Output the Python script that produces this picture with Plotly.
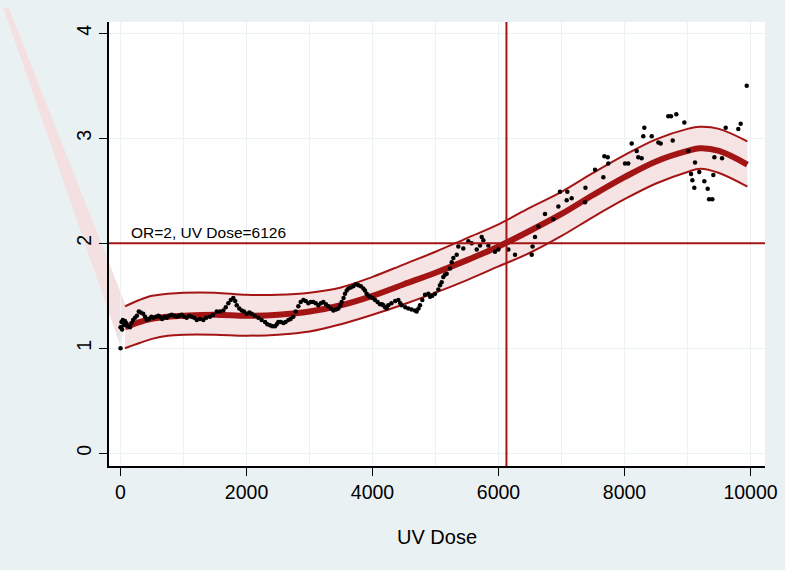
import plotly.graph_objects as go

# ---------------- data ----------------
fit_x = [70, 300, 500, 750, 1000, 1500, 2000, 2500, 3000, 3500, 4000, 4500, 5000,
         5500, 6000, 6500, 7000, 7500, 8000, 8500, 9000, 9200, 9500, 9950]
fit_y = [1.20, 1.25, 1.28, 1.30, 1.31, 1.32, 1.31, 1.32, 1.35, 1.41, 1.50, 1.61, 1.72,
         1.84, 1.97, 2.12, 2.28, 2.46, 2.63, 2.78, 2.88, 2.905, 2.88, 2.75]
ci_upper = [1.40, 1.46, 1.50, 1.52, 1.53, 1.53, 1.51, 1.51, 1.53, 1.58, 1.68, 1.80, 1.92,
            2.05, 2.18, 2.34, 2.49, 2.67, 2.84, 2.99, 3.09, 3.11, 3.09, 2.97]
ci_lower = [1.00, 1.05, 1.09, 1.12, 1.13, 1.13, 1.12, 1.13, 1.16, 1.23, 1.32, 1.42, 1.53,
            1.65, 1.78, 1.91, 2.07, 2.25, 2.42, 2.57, 2.68, 2.71, 2.67, 2.54]

obs_x = [0, 0, 15, 25, 35, 50, 70, 90, 120, 150, 175, 200, 230, 260, 290, 320, 360, 390,
         415, 450, 490, 520, 560, 600, 625, 660, 700, 733, 770, 812, 850, 892, 930, 971,
         1010, 1050, 1090, 1130, 1170, 1210, 1260, 1314, 1360, 1420, 1470, 1527, 1580,
         1632, 1670, 1711, 1750, 1790, 1820, 1845, 1885, 1924, 1960, 2003, 2045, 2083,
         2130, 2188, 2240, 2294, 2330, 2373, 2410, 2452, 2480, 2505, 2545, 2585, 2620,
         2664, 2700, 2743, 2780, 2822, 2860, 2902, 2940, 2981, 3020, 3060, 3100, 3140,
         3180, 3219, 3260, 3298, 3340, 3378, 3420, 3457, 3490, 3510, 3540, 3563, 3590,
         3616, 3655, 3695, 3735, 3775, 3815, 3854, 3880, 3907, 3935, 3960, 4000, 4040,
         4080, 4119, 4150, 4172, 4200, 4225, 4250, 4300, 4360, 4410, 4440, 4463, 4520,
         4569, 4620, 4675, 4701, 4730, 4754, 4790, 4833, 4886, 4913, 4950, 4992, 5045,
         5071, 5098, 5124, 5150, 5177, 5230, 5257, 5283, 5336, 5362, 5441, 5521, 5574,
         5654, 5706, 5733, 5759, 5838, 5944, 5997, 6156, 6262, 6527, 6540, 6579, 6632,
         6738, 6870, 6950, 6976, 7082, 7092, 7161, 7373, 7380, 7532, 7664, 7680, 7733,
         7743, 8008, 8060, 8114, 8193, 8219, 8272, 8298, 8314, 8432, 8537, 8574, 8695,
         8738, 8822, 8765, 8950, 9013, 9119, 9056, 9077, 9108, 9187, 9267, 9320, 9342,
         9394, 9410, 9426, 9548, 9606, 9806, 9844, 9940]
obs_y = [1.00, 1.20, 1.25, 1.18, 1.27, 1.22, 1.26, 1.24, 1.21, 1.20, 1.24, 1.27, 1.29,
         1.31, 1.35, 1.34, 1.33, 1.30, 1.27, 1.28, 1.30, 1.29, 1.30, 1.31, 1.30, 1.28,
         1.30, 1.29, 1.31, 1.32, 1.31, 1.30, 1.31, 1.32, 1.30, 1.29, 1.31, 1.30, 1.29,
         1.27, 1.28, 1.27, 1.29, 1.30, 1.32, 1.35, 1.35, 1.36, 1.39, 1.43, 1.46, 1.48,
         1.45, 1.41, 1.38, 1.36, 1.35, 1.33, 1.34, 1.33, 1.31, 1.29, 1.27, 1.25, 1.23,
         1.22, 1.21, 1.21, 1.23, 1.25, 1.25, 1.24, 1.25, 1.27, 1.28, 1.30, 1.35, 1.40,
         1.44, 1.46, 1.45, 1.43, 1.44, 1.44, 1.43, 1.41, 1.43, 1.44, 1.42, 1.40, 1.38,
         1.36, 1.37, 1.38, 1.41, 1.44, 1.48, 1.52, 1.55, 1.57, 1.58, 1.59, 1.61, 1.60,
         1.59, 1.57, 1.55, 1.52, 1.50, 1.49, 1.48, 1.46, 1.44, 1.42, 1.42, 1.41, 1.39,
         1.38, 1.41, 1.43, 1.45, 1.46, 1.43, 1.41, 1.39, 1.38, 1.37, 1.36, 1.35, 1.38,
         1.41, 1.46, 1.51, 1.52, 1.49, 1.50, 1.52, 1.56, 1.60, 1.63, 1.68, 1.70, 1.71,
         1.76, 1.82, 1.86, 1.89, 1.97, 1.95, 2.02, 2.00, 1.94, 1.98, 2.06, 2.03, 1.98,
         1.92, 1.94, 1.94, 1.89, 1.89, 1.97, 2.06, 2.16, 2.28, 2.23, 2.35, 2.49, 2.41,
         2.49, 2.43, 2.39, 2.53, 2.70, 2.63, 2.83, 2.82, 2.76, 2.76, 2.76, 2.95, 2.88,
         2.82, 2.81, 3.02, 3.10, 3.02, 2.96, 2.95, 3.21, 3.21, 3.23, 2.98, 3.15, 2.88,
         2.77, 2.66, 2.60, 2.53, 2.68, 2.59, 2.52, 2.42, 2.42, 2.65, 2.82, 2.81, 3.10,
         3.09, 3.14, 3.50]

x_ticks = [0, 2000, 4000, 6000, 8000, 10000]
x_tick_labels = ["0", "2000", "4000", "6000", "8000", "10000"]
y_ticks = [0, 1, 2, 3, 4]
y_tick_labels = ["0", "1", "2", "3", "4"]
ref_or = 2
ref_dose = 6126
annot_text = "OR=2, UV Dose=6126"
x_title = "UV Dose"

# ---------------- style ----------------
RED = "#a31515"
BAND = "#f6e3e3"
BG = "#eaf1f3"
GRID = "#ebf2f4"
FONT = "Liberation Sans, Arial, Helvetica, sans-serif"

fig = go.Figure()

# CI band
fig.add_trace(go.Scatter(x=fit_x, y=ci_upper, mode="lines",
                         line=dict(color=RED, width=2, shape="spline"),
                         hoverinfo="skip", showlegend=False))
fig.add_trace(go.Scatter(x=fit_x, y=ci_lower, mode="lines",
                         line=dict(color=RED, width=2, shape="spline"),
                         fill="tonexty", fillcolor=BAND,
                         hoverinfo="skip", showlegend=False))
# fitted curve
fig.add_trace(go.Scatter(x=fit_x, y=fit_y, mode="lines",
                         line=dict(color=RED, width=6, shape="spline"),
                         showlegend=False))
# observed points
fig.add_trace(go.Scatter(x=obs_x, y=obs_y, mode="markers",
                         marker=dict(color="black", size=4.5),
                         showlegend=False))

# reference lines
fig.add_shape(type="line", xref="paper", yref="y", x0=0, x1=1, y0=ref_or, y1=ref_or,
              line=dict(color=RED, width=2), layer="above")
fig.add_shape(type="line", xref="x", yref="paper", x0=ref_dose, x1=ref_dose, y0=0, y1=1,
              line=dict(color=RED, width=2), layer="above")

# stray extrapolated band wedge (drawn outside plot area)
fig.add_shape(type="path", xref="paper", yref="paper",
              path="M -0.161 1.032 L -0.153 1.032 L 0.026 0.360 L 0.018 0.268 Z",
              fillcolor="#f4e0e0", line=dict(width=0), layer="below")

fig.add_annotation(x=140, y=ref_or, xref="x", yref="y", text=annot_text,
                   showarrow=False, xanchor="left", yanchor="bottom", yshift=0,
                   font=dict(family=FONT, size=15.5, color="black"))

fig.update_layout(
    width=785, height=570,
    margin=dict(l=109, r=20, t=22, b=104, autoexpand=False),
    paper_bgcolor=BG, plot_bgcolor="white",
    font=dict(family=FONT, color="black"),
    xaxis=dict(range=[-183, 10230], tickvals=x_ticks, ticktext=x_tick_labels,
               ticks="outside", ticklen=8,
               tickwidth=1.3, tickcolor="black",
               showline=True, linecolor="black", linewidth=1.5,
               showgrid=True, gridcolor=GRID, gridwidth=1,
               minor=dict(dtick=1000, tick0=0, showgrid=True, gridcolor=GRID, gridwidth=1),
               zeroline=False, tickfont=dict(size=19.5),
               title=dict(text=x_title, font=dict(size=20), standoff=28)),
    yaxis=dict(range=[-0.121, 4.108], tickvals=y_ticks, ticktext=y_tick_labels,
               ticks="outside", ticklen=8,
               tickwidth=1.3, tickcolor="black", tickangle=-90,
               showline=True, linecolor="black", linewidth=1.5,
               showgrid=True, gridcolor=GRID, gridwidth=1,
               zeroline=False, tickfont=dict(size=19.5)),
)

fig.write_html("out.html", config={"displayModeBar": False},
               post_script="document.body.style.margin='0';document.body.style.padding='0';")
